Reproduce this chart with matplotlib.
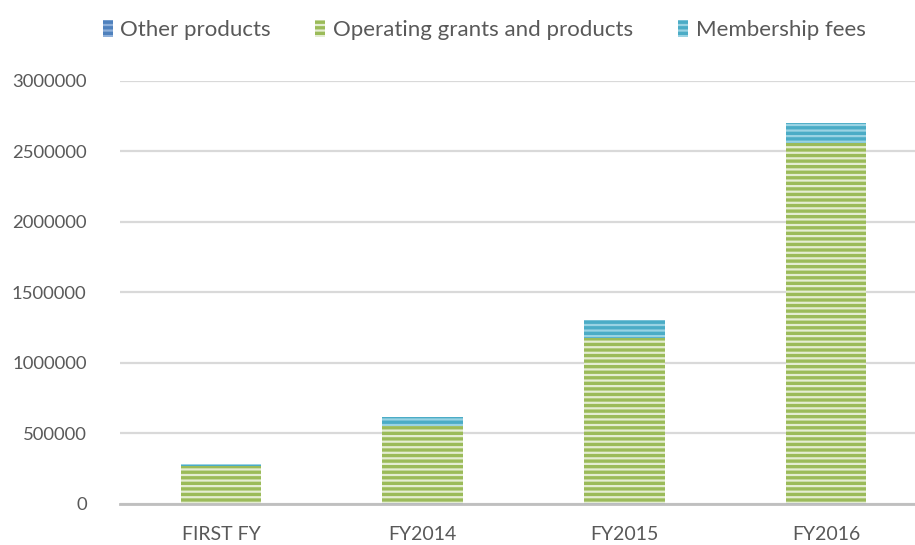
"""Stacked revenue bars per fiscal year, Excel-like striped style."""
import matplotlib.pyplot as plt
import numpy as np
from matplotlib.ticker import FuncFormatter

plt.rcParams["font.family"] = ["Lato", "DejaVu Sans"]
plt.rcParams["hatch.linewidth"] = 1.6

categories = ["FIRST FY", "FY2014", "FY2015", "FY2016"]
other_products = [3000, 5000, 5000, 5000]
operating_grants = [265000, 547000, 1170000, 2555000]
membership_fees = [14000, 62000, 127000, 140000]

series = [
    ("Other products", other_products, "#4F81BD", "#8FB0DA"),
    ("Operating grants and products", operating_grants, "#9BBB59", "#E4EDD2"),
    ("Membership fees", membership_fees, "#4BACC6", "#9AD3E3"),
]

fig = plt.figure(figsize=[9.15, 5.45], dpi=100)
ax = fig.add_axes([120 / 915, 1 - 504 / 545, 807 / 915, (504 - 80.7) / 545])

x = np.arange(len(categories))
bottom = np.zeros(len(categories))
for label, values, face, stripe in series:
    ax.bar(
        x, values, width=0.4, bottom=bottom, color=face, edgecolor=stripe,
        linewidth=0, hatch="---", label=label, zorder=3,
    )
    bottom += np.array(values)

ax.set_xlim(-0.5, len(categories) - 0.5)
ax.set_ylim(0, 3000000)
ax.set_yticks(np.arange(0, 3000001, 500000))
ax.yaxis.set_major_formatter(FuncFormatter(lambda v, pos: f"{int(v)}"))
ax.yaxis.grid(True, color="#D9D9D9", linewidth=1.6, zorder=0)
ax.set_xticks(x)
ax.set_xticklabels(categories)
ax.tick_params(axis="both", length=0, colors="#595959")
ax.tick_params(axis="x", pad=16, labelsize=14)
ax.tick_params(axis="y", pad=24, labelsize=13.3)

for side in ["top", "right", "left"]:
    ax.spines[side].set_visible(False)
ax.spines["bottom"].set_color("#BFBFBF")
ax.spines["bottom"].set_linewidth(2)
ax.spines["bottom"].set_zorder(4)

ax.legend(
    loc="center", bbox_to_anchor=(484 / 915, 1 - 30 / 545),
    bbox_transform=fig.transFigure, ncol=3, frameon=False,
    fontsize=16, labelcolor="#595959", handlelength=0.45, handleheight=0.8,
    handletextpad=0.35, columnspacing=2.0,
)

plt.savefig("out.png", dpi=100)
plt.close()
